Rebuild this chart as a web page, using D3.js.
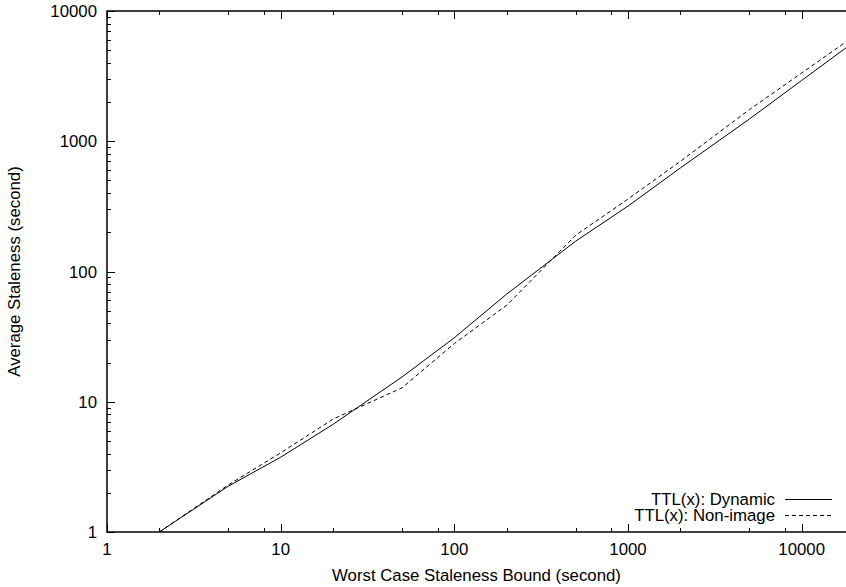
<!DOCTYPE html>
<html>
<head>
<meta charset="utf-8">
<script src="https://cdn.jsdelivr.net/npm/d3@7"></script>
<style>
  html, body { margin: 0; padding: 0; background: #fff; }
  svg { display: block; }
  text { font-family: "Liberation Sans", Arial, Helvetica, sans-serif; fill: #000; }
</style>
</head>
<body>
<svg id="chart" width="846" height="587"></svg>
<script>
// Worst-case staleness bound (seconds) at which each run was measured
const bounds = [2, 5, 10, 20, 50, 100, 200, 500, 1000, 2000, 5000, 10000, 20000];
// Average staleness (seconds) for each TTL policy
const dynamicStaleness  = [1.0, 2.25, 3.75, 6.7, 15.5, 31, 67, 171, 318, 623, 1480, 2930, 5780];
const nonImageStaleness = [1.0, 2.3, 4.05, 7.35, 12.8, 28, 55, 190, 360, 700, 1750, 3340, 6390];

const seriesNames = ["TTL(x): Dynamic", "TTL(x): Non-image"];
const xTickValues = [1, 10, 100, 1000, 10000];
const yTickValues = [1, 10, 100, 1000, 10000];
const xLabel = "Worst Case Staleness Bound (second)";
const yLabel = "Average Staleness (second)";

const svg = d3.select("#chart");
const plotLeft = 107, plotRight = 846, plotTop = 11, plotBottom = 532;
const fontSize = 16.8;

const x = d3.scaleLog().domain([1, 18000]).range([plotLeft, plotRight]);
const y = d3.scaleLog().domain([1, 10000]).range([plotBottom, plotTop]);

// clip the curves to the plotting area
svg.append("defs").append("clipPath").attr("id", "plot-clip")
  .append("rect").attr("x", plotLeft).attr("y", plotTop)
  .attr("width", plotRight - plotLeft).attr("height", plotBottom - plotTop);

// minor ticks: x at 2, 5, 8 of each decade; y at 2..9
const xMinor = [], yMinor = [];
for (let d = 1; d <= 10000; d *= 10) {
  [2, 5, 8].forEach(m => { if (m * d < 18000) xMinor.push(m * d); });
  if (d < 10000) for (let m = 2; m <= 9; m++) yMinor.push(m * d);
}

const tickG = svg.append("g").attr("stroke", "#000").attr("stroke-width", 1);
function xTicks(vals, len) {
  vals.forEach(v => {
    const px = Math.round(x(v)) + 0.5;
    tickG.append("line").attr("x1", px).attr("x2", px).attr("y1", plotBottom).attr("y2", plotBottom - len);
    tickG.append("line").attr("x1", px).attr("x2", px).attr("y1", plotTop).attr("y2", plotTop + len);
  });
}
function yTicks(vals, len) {
  vals.forEach(v => {
    const py = Math.round(y(v)) + 0.5;
    tickG.append("line").attr("x1", plotLeft).attr("x2", plotLeft + len).attr("y1", py).attr("y2", py);
  });
}
xTicks(xMinor, 4);
xTicks(xTickValues, 8);
yTicks(yMinor, 4);
yTicks(yTickValues, 8);

// frame
svg.append("path")
  .attr("d", `M${plotRight + 2},${plotTop}H${plotLeft}V${plotBottom}H${plotRight + 2}`)
  .attr("stroke", "#000").attr("stroke-width", 1.5).attr("fill", "none");

// tick labels
svg.append("g").selectAll("text").data(xTickValues).join("text")
  .attr("x", d => x(d)).attr("y", 555)
  .attr("text-anchor", "middle").attr("font-size", fontSize)
  .text(d => d);
svg.append("g").selectAll("text").data(yTickValues).join("text")
  .attr("x", 97).attr("y", d => y(d) + 6)
  .attr("text-anchor", "end").attr("font-size", fontSize)
  .text(d => d);

// axis titles, centred on the plotting area
svg.append("text").attr("x", (plotLeft + plotRight) / 2).attr("y", 581)
  .attr("text-anchor", "middle").attr("font-size", fontSize).text(xLabel);
svg.append("text")
  .attr("transform", `translate(20,${(plotTop + plotBottom) / 2}) rotate(-90)`)
  .attr("text-anchor", "middle").attr("font-size", fontSize).text(yLabel);

// curves
const line = d3.line().x(d => x(d[0])).y(d => y(d[1]));
const series = [
  { name: seriesNames[0], values: dynamicStaleness, dash: null },
  { name: seriesNames[1], values: nonImageStaleness, dash: "4,3" }
];
const plot = svg.append("g").attr("clip-path", "url(#plot-clip)");
series.forEach(s => {
  plot.append("path")
    .datum(bounds.map((b, i) => [b, s.values[i]]))
    .attr("fill", "none").attr("stroke", "#000").attr("stroke-width", 1)
    .attr("stroke-dasharray", s.dash)
    .attr("d", line);
});

// legend
const legend = svg.append("g");
series.forEach((s, i) => {
  const ly = 499 + i * 16;
  legend.append("text").attr("x", 775).attr("y", ly + 6)
    .attr("text-anchor", "end").attr("font-size", fontSize).text(s.name);
  legend.append("line").attr("x1", 785).attr("x2", 832).attr("y1", ly + 0.5).attr("y2", ly + 0.5)
    .attr("stroke", "#000").attr("stroke-width", 1).attr("stroke-dasharray", s.dash);
});
</script>
</body>
</html>
